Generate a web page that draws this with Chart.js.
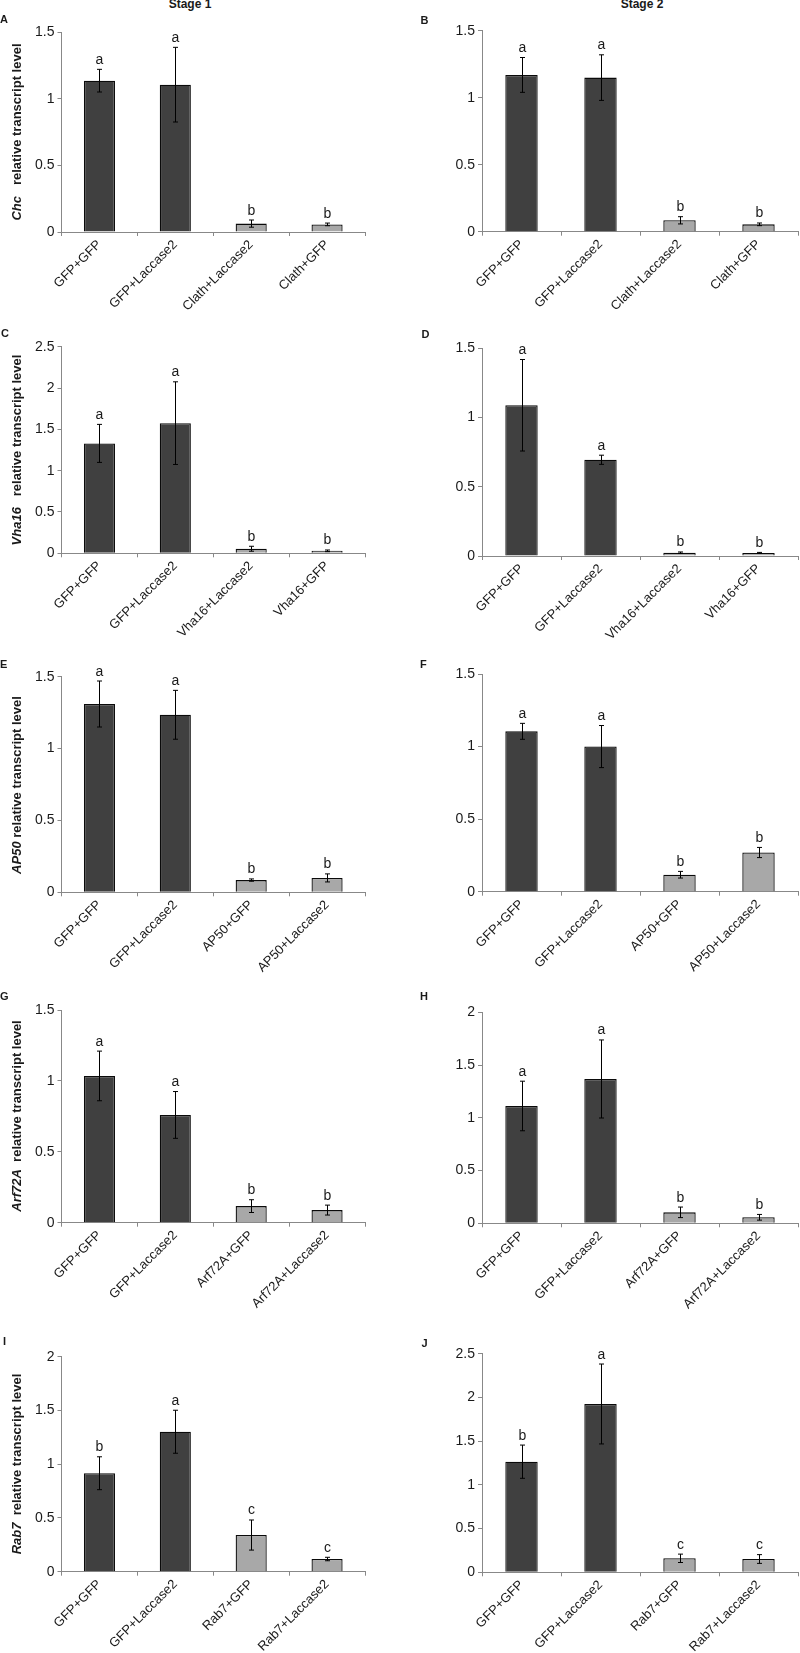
<!DOCTYPE html>
<html>
<head>
<meta charset="utf-8">
<script src="https://cdn.jsdelivr.net/npm/chart.js@4.4.0/dist/chart.umd.min.js"></script>
<style>
  html, body { margin: 0; padding: 0; background: #fff; }
  body { width: 800px; height: 1653px; position: relative; overflow: hidden; font-family: "Liberation Sans", Arial, sans-serif; color: #1a1a1a; }
  .stage { position: absolute; top: -2px; font-weight: bold; font-size: 12px; line-height: 12px; transform: translateX(-50%); white-space: nowrap; }
  .plabel { position: absolute; font-weight: bold; font-size: 11px; line-height: 11px; }
  .ytitle { position: absolute; font-weight: bold; font-size: 13px; line-height: 14px; white-space: nowrap; transform: translate(-50%, -50%) rotate(-90deg); }
  canvas { position: absolute; }
</style>
</head>
<body>
<div class="stage" style="left:190px">Stage 1</div>
<div class="stage" style="left:642px">Stage 2</div>
<script>
// categories
const catsChc = ['GFP+GFP', 'GFP+Laccase2', 'Clath+Laccase2', 'Clath+GFP'];
const catsVha16 = ['GFP+GFP', 'GFP+Laccase2', 'Vha16+Laccase2', 'Vha16+GFP'];
const catsAP50 = ['GFP+GFP', 'GFP+Laccase2', 'AP50+GFP', 'AP50+Laccase2'];
const catsArf72A = ['GFP+GFP', 'GFP+Laccase2', 'Arf72A+GFP', 'Arf72A+Laccase2'];
const catsRab7 = ['GFP+GFP', 'GFP+Laccase2', 'Rab7+GFP', 'Rab7+Laccase2'];

// A / B - Chc
const chcStage1 = [1.135, 1.105, 0.063, 0.057];
const chcStage1Err = [0.085, 0.28, 0.027, 0.01];
const chcStage1Sig = ['a', 'a', 'b', 'b'];
const chcStage2 = [1.17, 1.15, 0.085, 0.055];
const chcStage2Err = [0.13, 0.17, 0.027, 0.01];
const chcStage2Sig = ['a', 'a', 'b', 'b'];

// C / D - Vha16
const vhaStage1 = [1.33, 1.575, 0.055, 0.03];
const vhaStage1Err = [0.23, 0.5, 0.03, 0.01];
const vhaStage1Sig = ['a', 'a', 'b', 'b'];
const vhaStage2 = [1.087, 0.694, 0.024, 0.022];
const vhaStage2Err = [0.33, 0.033, 0.005, 0.004];
const vhaStage2Sig = ['a', 'a', 'b', 'b'];

// E / F - AP50
const ap50Stage1 = [1.31, 1.235, 0.085, 0.1];
const ap50Stage1Err = [0.16, 0.17, 0.008, 0.028];
const ap50Stage1Sig = ['a', 'a', 'b', 'b'];
const ap50Stage2 = [1.105, 1.0, 0.117, 0.27];
const ap50Stage2Err = [0.055, 0.145, 0.023, 0.035];
const ap50Stage2Sig = ['a', 'a', 'b', 'b'];

// G / H - Arf72A
const arfStage1 = [1.035, 0.76, 0.117, 0.089];
const arfStage1Err = [0.175, 0.165, 0.045, 0.035];
const arfStage1Sig = ['a', 'a', 'b', 'b'];
const arfStage2 = [1.112, 1.368, 0.104, 0.057];
const arfStage2Err = [0.235, 0.37, 0.05, 0.027];
const arfStage2Sig = ['a', 'a', 'b', 'b'];

// I / J - Rab7
const rabStage1 = [0.916, 1.302, 0.341, 0.118];
const rabStage1Err = [0.153, 0.2, 0.14, 0.016];
const rabStage1Sig = ['b', 'a', 'c', 'c'];
const rabStage2 = [1.265, 1.925, 0.16, 0.152];
const rabStage2Err = [0.19, 0.457, 0.048, 0.05];
const rabStage2Sig = ['b', 'a', 'c', 'c'];

// y axis maximum per panel (ticks every 0.5)
const yMaxStage1 = [1.5, 2.5, 1.5, 1.5, 2];
const yMaxStage2 = [1.5, 1.5, 1.5, 2, 2.5];

const FONT = '"Liberation Sans", Arial, sans-serif';
const DARK = '#404040';
const LIGHT = '#a8a8a8';

// columns: canvas box and plot edges
const cols = [
  { canvasX: 0, canvasW: 370, axisX: 61.5, rightX: 365, titleX: 16.5 },
  { canvasX: 420, canvasW: 380, axisX: 482, rightX: 798 }
];

const panels = [
  { id: 'A', col: 0, top: 32, zero: 232, lx: 0, lb: 23.5, gene: 'Chc', sp: '\u00a0\u00a0', cats: catsChc, vals: chcStage1, err: chcStage1Err, sig: chcStage1Sig, yMax: yMaxStage1[0] },
  { id: 'B', col: 1, top: 30.7, zero: 231.7, lx: 420.5, lb: 24, cats: catsChc, vals: chcStage2, err: chcStage2Err, sig: chcStage2Sig, yMax: yMaxStage2[0] },
  { id: 'C', col: 0, top: 346.7, zero: 553.3, lx: 1, lb: 337, gene: 'Vha16', sp: '\u00a0\u00a0', cats: catsVha16, vals: vhaStage1, err: vhaStage1Err, sig: vhaStage1Sig, yMax: yMaxStage1[1] },
  { id: 'D', col: 1, top: 348, zero: 556, lx: 421.5, lb: 338, cats: catsVha16, vals: vhaStage2, err: vhaStage2Err, sig: vhaStage2Sig, yMax: yMaxStage2[1] },
  { id: 'E', col: 0, top: 676.7, zero: 892.3, lx: 0, lb: 668, gene: 'AP50', sp: '', cats: catsAP50, vals: ap50Stage1, err: ap50Stage1Err, sig: ap50Stage1Sig, yMax: yMaxStage1[2] },
  { id: 'F', col: 1, top: 674, zero: 891.7, lx: 420, lb: 668, cats: catsAP50, vals: ap50Stage2, err: ap50Stage2Err, sig: ap50Stage2Sig, yMax: yMaxStage2[2] },
  { id: 'G', col: 0, top: 1010, zero: 1222.7, lx: 0, lb: 1000, gene: 'Arf72A', sp: '\u00a0', cats: catsArf72A, vals: arfStage1, err: arfStage1Err, sig: arfStage1Sig, yMax: yMaxStage1[3] },
  { id: 'H', col: 1, top: 1012.3, zero: 1223.3, lx: 420, lb: 1000, cats: catsArf72A, vals: arfStage2, err: arfStage2Err, sig: arfStage2Sig, yMax: yMaxStage2[3] },
  { id: 'I', col: 0, top: 1356.7, zero: 1571.7, lx: 3, lb: 1345, gene: 'Rab7', sp: '\u00a0', cats: catsRab7, vals: rabStage1, err: rabStage1Err, sig: rabStage1Sig, yMax: yMaxStage1[4] },
  { id: 'J', col: 1, top: 1353.7, zero: 1572.3, lx: 421.5, lb: 1347, cats: catsRab7, vals: rabStage2, err: rabStage2Err, sig: rabStage2Sig, yMax: yMaxStage2[4] }
];

// error bars + significance letters
const errorBarPlugin = {
  id: 'errorBars',
  afterDatasetsDraw(chart) {
    const ctx = chart.ctx;
    const meta = chart.getDatasetMeta(0);
    const yScale = chart.scales.y;
    const ds = chart.data.datasets[0];
    ctx.save();
    ctx.strokeStyle = '#000';
    ctx.lineWidth = 1;
    meta.data.forEach((bar, i) => {
      const v = ds.data[i];
      const e = ds.errors[i];
      const x = Math.round(bar.x) + 0.5;
      const yTop = yScale.getPixelForValue(v + e);
      const yBot = yScale.getPixelForValue(v - e);
      ctx.beginPath();
      ctx.moveTo(x, yTop);
      ctx.lineTo(x, yBot);
      ctx.moveTo(x - 2.5, yTop);
      ctx.lineTo(x + 2.5, yTop);
      ctx.moveTo(x - 2.5, yBot);
      ctx.lineTo(x + 2.5, yBot);
      ctx.stroke();
      ctx.fillStyle = '#1a1a1a';
      ctx.font = '14px ' + FONT;
      ctx.textAlign = 'center';
      ctx.textBaseline = 'alphabetic';
      ctx.fillText(ds.sig[i], x, yTop - 5.5);
    });
    ctx.restore();
  }
};

panels.forEach(p => {
  const c = cols[p.col];
  const canvasTop = Math.floor(p.top - 26);
  const canvasH = Math.min(Math.round(p.zero + 95), 1653) - canvasTop;
  const canvas = document.createElement('canvas');
  canvas.width = c.canvasW;
  canvas.height = canvasH;
  canvas.style.left = c.canvasX + 'px';
  canvas.style.top = canvasTop + 'px';
  canvas.style.width = c.canvasW + 'px';
  canvas.style.height = canvasH + 'px';
  document.body.appendChild(canvas);

  const lbl = document.createElement('div');
  lbl.className = 'plabel';
  lbl.textContent = p.id;
  lbl.style.left = p.lx + 'px';
  lbl.style.top = (p.lb - 9.3) + 'px';
  document.body.appendChild(lbl);

  if (p.gene) {
    const t = document.createElement('div');
    t.className = 'ytitle';
    t.innerHTML = '<i>' + p.gene + '</i>' + p.sp + ' relative transcript level';
    t.style.left = c.titleX + 'px';
    t.style.top = ((p.top + p.zero) / 2) + 'px';
    document.body.appendChild(t);
  }

  const yWidth = c.axisX - c.canvasX;
  const xHeight = canvasTop + canvasH - p.zero;

  new Chart(canvas, {
    type: 'bar',
    data: {
      labels: p.cats,
      datasets: [{
        data: p.vals,
        errors: p.err,
        sig: p.sig,
        backgroundColor: [DARK, DARK, LIGHT, LIGHT],
        borderColor: '#0a0a0a',
        borderWidth: 1.3,
        categoryPercentage: 1,
        barPercentage: 0.41
      }]
    },
    options: {
      responsive: false,
      animation: false,
      devicePixelRatio: 1,
      layout: { padding: { top: p.top - canvasTop, right: c.canvasX + c.canvasW - c.rightX, left: 0, bottom: 0 } },
      plugins: { legend: { display: false }, tooltip: { enabled: false } },
      scales: {
        x: {
          offset: true,
          grid: { display: true, offset: true, drawOnChartArea: false, drawTicks: true, tickLength: 4, color: '#888' },
          border: { display: true, color: '#888', width: 1 },
          ticks: { maxRotation: 45, minRotation: 45, padding: 1, color: '#1a1a1a', font: { family: FONT, size: 13 } },
          afterFit(scale) { scale.height = xHeight; scale.paddingLeft = 0; scale.paddingRight = 0; }
        },
        y: {
          min: 0,
          max: p.yMax,
          grid: { display: true, drawOnChartArea: false, drawTicks: true, tickLength: 4, color: '#888' },
          border: { display: true, color: '#888', width: 1 },
          ticks: { stepSize: 0.5, padding: 3, color: '#1a1a1a', font: { family: FONT, size: 14 }, callback: v => String(Number(v.toFixed(1))) },
          afterFit(scale) { scale.width = yWidth; scale.paddingTop = 0; scale.paddingBottom = 0; }
        }
      }
    },
    plugins: [errorBarPlugin]
  });
});
</script>
</body>
</html>
